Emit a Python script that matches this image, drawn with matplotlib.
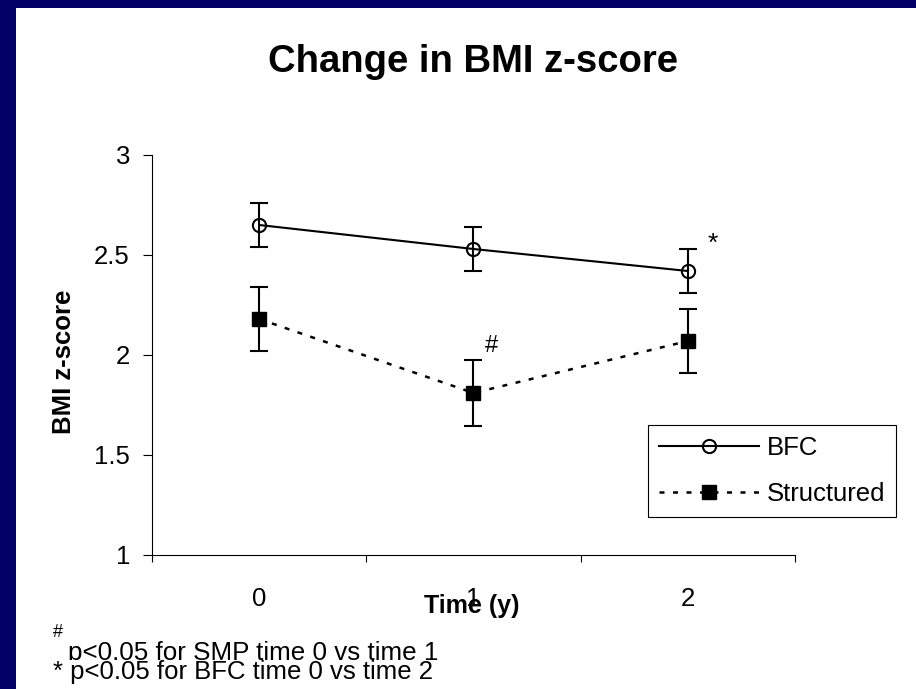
import matplotlib
matplotlib.use("Agg")
import matplotlib.pyplot as plt
from matplotlib.patches import Rectangle

plt.rcParams['font.family'] = ['Liberation Sans', 'DejaVu Sans']

# ---- data ----
times = [0, 1, 2]
time_labels = ['0', '1', '2']
bfc_mean = [2.65, 2.53, 2.42]
bfc_err = [0.11, 0.11, 0.11]
str_mean = [2.18, 1.81, 2.07]
str_err = [0.16, 0.165, 0.16]
series_names = ['BFC', 'Structured']
title = 'Change in BMI z-score'
xlabel = 'Time (y)'
ylabel = 'BMI z-score'
yticks = [1, 1.5, 2, 2.5, 3]
ytick_labels = ['1', '1.5', '2', '2.5', '3']
foot1 = 'p<0.05 for SMP time 0 vs time 1'
foot2 = '* p<0.05 for BFC time 0 vs time 2'

W, H = 916, 689
fig = plt.figure(figsize=(W / 100, H / 100), dpi=100)
fig.patch.set_facecolor('white')

navy = '#000066'
fig.patches.append(Rectangle((0, 0), 16 / W, 1, transform=fig.transFigure,
                             facecolor=navy, edgecolor='none', zorder=0))
fig.patches.append(Rectangle((0, 1 - 8 / H), 1, 8 / H, transform=fig.transFigure,
                             facecolor=navy, edgecolor='none', zorder=0))

ax = fig.add_axes([152 / W, 1 - 555 / H, (795 - 152) / W, (555 - 155) / H])
ax.set_facecolor('none')
ax.set_xlim(-0.5, 2.5)
ax.set_ylim(1, 3)
for s in ['top', 'right']:
    ax.spines[s].set_visible(False)
for s in ['left', 'bottom']:
    ax.spines[s].set_linewidth(0.8)

# error bars
ax.errorbar(times, bfc_mean, yerr=bfc_err, fmt='none', ecolor='black',
            elinewidth=1.5, capsize=6.8, capthick=1.5, zorder=2)
ax.errorbar(times, str_mean, yerr=str_err, fmt='none', ecolor='black',
            elinewidth=1.5, capsize=6.8, capthick=1.5, zorder=2)

l1, = ax.plot(times, bfc_mean, color='black', lw=1.5, marker='o', ms=9.5,
              mfc='none', mec='black', mew=1.5, label=series_names[0], zorder=3)
l2, = ax.plot(times, str_mean, color='black', lw=1.8, linestyle=(0, (2.0, 3.4)),
              marker='s', ms=9.5, mfc='black', mec='black', label=series_names[1], zorder=3)

# significance marks
ax.text(2.117, 2.52, '*', fontsize=19, ha='center', va='baseline')
ax.text(1.084, 2.015, '#', fontsize=17, ha='center', va='baseline')

# ticks
ax.set_yticks(yticks, ytick_labels)
ax.tick_params(axis='y', which='major', length=6.5, width=0.8, pad=9.4,
               labelsize=18.5, direction='out')
ax.set_xticks([-0.5, 0.5, 1.5, 2.5], ['', '', '', ''])
ax.tick_params(axis='x', which='major', length=5, width=0.8, direction='out')
ax.set_xticks(times, time_labels, minor=True)
ax.tick_params(axis='x', which='minor', length=0, pad=23, labelsize=18.5)

# labels
fig.text(473 / W, 1 - 72 / H, title, fontsize=27.5, fontweight='bold',
         ha='center', va='baseline')
fig.text(472 / W, 1 - 613 / H, xlabel, fontsize=18, fontweight='bold',
         ha='center', va='baseline', zorder=1)
fig.text(64 / W, 1 - 362 / H, ylabel, fontsize=18.5, fontweight='bold',
         rotation=90, ha='center', va='center')

# legend
leg = ax.legend(handles=[l1, l2], loc='upper left',
                bbox_to_anchor=(648 / W, 1 - 425 / H), bbox_transform=fig.transFigure,
                borderaxespad=0, fontsize=18.5, handlelength=3.9, handletextpad=0.3,
                borderpad=0.42, labelspacing=0.88, numpoints=1, fancybox=False,
                framealpha=1, edgecolor='black')
leg.get_frame().set_linewidth(0.8)

# footnotes
fig.text(53 / W, 1 - 637 / H, '#', fontsize=13, ha='left', va='baseline')
fig.text(68 / W, 1 - 660 / H, foot1, fontsize=18.7, ha='left', va='baseline')
fig.text(53 / W, 1 - 679 / H, foot2, fontsize=18.5, ha='left', va='baseline',
         bbox=dict(facecolor='white', edgecolor='none', pad=0))

fig.savefig('out.png', dpi=100, facecolor=fig.get_facecolor())
